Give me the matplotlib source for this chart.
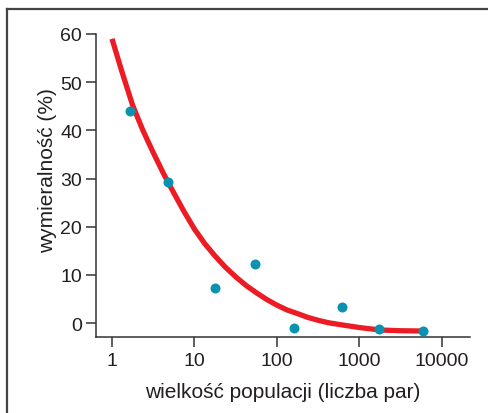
import matplotlib
matplotlib.use('Agg')
import matplotlib.pyplot as plt
from matplotlib.lines import Line2D
from matplotlib.ticker import FixedLocator, NullLocator

plt.rcParams['font.family'] = ['Liberation Sans', 'DejaVu Sans']

# observed points
pop_size = [1.65, 4.8, 17.7, 54, 161, 614, 1722, 5900]
extinction = [44.0, 29.3, 7.3, 12.2, -1.0, 3.3, -1.2, -1.7]

# fitted curve
curve_x = [1, 1.33, 1.78, 2.37, 3.16, 4.22, 5.62, 7.5, 10, 13.3, 17.8, 23.7, 31.6,
           42.2, 56.2, 75, 100, 133, 178, 237, 316, 422, 562, 1000, 1780, 3160, 5900]
curve_y = [59.0, 52.0, 45.2, 40.0, 35.4, 31.0, 27.0, 23.1, 19.5, 16.5, 13.9, 11.6, 9.6,
           7.8, 6.3, 4.9, 3.7, 2.7, 1.95, 1.17, 0.56, 0.06, -0.29, -0.94, -1.45, -1.6, -1.66]

x_ticks = [1, 10, 100, 1000, 10000]
x_labels = ['1', '10', '100', '1000', '10000']
y_ticks = [0, 10, 20, 30, 40, 50, 60]

axis_col = '#333333'
text_col = '#231f20'

fig = plt.figure(figsize=(4.88, 4.14), dpi=100)
ax = fig.add_axes([0.1967, 0.1836, 0.7663, 0.7319])

ax.plot(curve_x, curve_y, color='#ec1c24', lw=3.8, solid_capstyle='butt',
        solid_joinstyle='round', zorder=2)
ax.plot(pop_size, extinction, 'o', color='#0a93b0', ms=7.2, mec='none', zorder=3)

ax.set_xscale('log')
ax.set_xlim(0.64, 21900)
ax.set_ylim(-2.9, 60)

ax.xaxis.set_major_locator(FixedLocator(x_ticks))
ax.xaxis.set_minor_locator(NullLocator())
ax.set_xticklabels(x_labels)
ax.set_yticks(y_ticks)

for s in ['top', 'right']:
    ax.spines[s].set_visible(False)
for s in ['left', 'bottom']:
    ax.spines[s].set_color(axis_col)
    ax.spines[s].set_linewidth(1.1)

ax.tick_params(direction='out', length=7, width=1.1, color=axis_col,
               labelsize=14, labelcolor=text_col)
ax.tick_params(axis='y', pad=3)
ax.tick_params(axis='x', pad=3.5)

ax.set_xlabel('wielkość populacji (liczba par)', fontsize=15, color=text_col, labelpad=10)
ax.set_ylabel('wymieralność (%)', fontsize=15, color=text_col)
ax.yaxis.set_label_coords(-0.104, 0.554)

# outer frame (left and top edges only)
fig.add_artist(Line2D([7 / 488, 7 / 488], [0, 1 - 10 / 414], color='#444444', lw=1.6))
fig.add_artist(Line2D([7 / 488, 1], [1 - 10 / 414, 1 - 10 / 414], color='#444444', lw=1.6))

fig.savefig('out.png', dpi=100)
